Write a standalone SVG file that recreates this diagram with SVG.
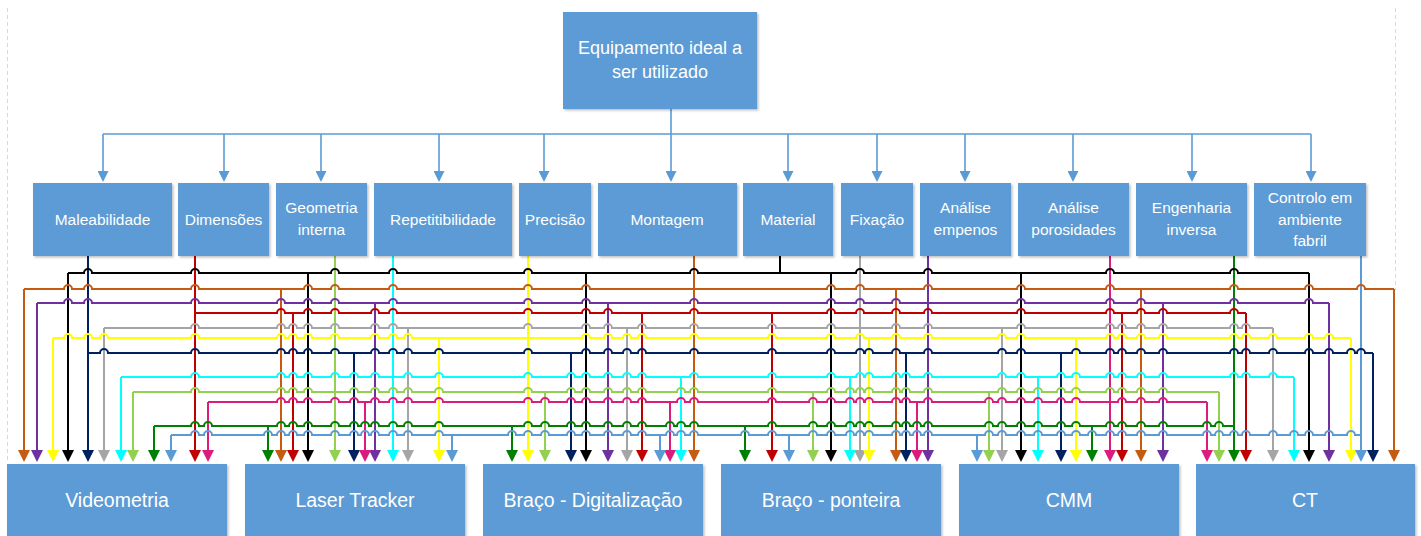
<svg xmlns="http://www.w3.org/2000/svg" width="1421" height="536" viewBox="0 0 1421 536">
<defs>
<style>
.box{fill:#5B9BD5;filter:url(#sh)}
.t{font-family:"Liberation Sans",Arial,sans-serif;fill:#fff;text-anchor:middle}
.c{font-size:15.5px}
.e{font-size:19.5px}
.top{font-size:18px}
.ln{fill:none;stroke-width:2}
.tree{fill:none;stroke:#5B9BD5;stroke-width:1.6}
.k{stroke:#000}.o{stroke:#C55A11}.p{stroke:#7030A0}.r{stroke:#C00000}.g{stroke:#A5A5A5}.y{stroke:#FFFF00}
.n{stroke:#002060}.c1{stroke:#00FFFF}.lg{stroke:#92D050}.m{stroke:#DC1C7D}.gr{stroke:#008000}.lb{stroke:#5B9BD5}
</style>
<filter id="sh" x="-5%" y="-5%" width="115%" height="120%"><feDropShadow dx="1.5" dy="1.5" stdDeviation="1" flood-color="#000" flood-opacity="0.25"/></filter>
<marker id="ak" viewBox="0 0 12 12" refX="0" refY="6" markerWidth="12" markerHeight="12" markerUnits="userSpaceOnUse" orient="auto"><path d="M0,0L12,6L0,12z" fill="#000"/></marker>
<marker id="ao" viewBox="0 0 12 12" refX="0" refY="6" markerWidth="12" markerHeight="12" markerUnits="userSpaceOnUse" orient="auto"><path d="M0,0L12,6L0,12z" fill="#C55A11"/></marker>
<marker id="ap" viewBox="0 0 12 12" refX="0" refY="6" markerWidth="12" markerHeight="12" markerUnits="userSpaceOnUse" orient="auto"><path d="M0,0L12,6L0,12z" fill="#7030A0"/></marker>
<marker id="ar" viewBox="0 0 12 12" refX="0" refY="6" markerWidth="12" markerHeight="12" markerUnits="userSpaceOnUse" orient="auto"><path d="M0,0L12,6L0,12z" fill="#C00000"/></marker>
<marker id="ag" viewBox="0 0 12 12" refX="0" refY="6" markerWidth="12" markerHeight="12" markerUnits="userSpaceOnUse" orient="auto"><path d="M0,0L12,6L0,12z" fill="#A5A5A5"/></marker>
<marker id="ay" viewBox="0 0 12 12" refX="0" refY="6" markerWidth="12" markerHeight="12" markerUnits="userSpaceOnUse" orient="auto"><path d="M0,0L12,6L0,12z" fill="#FFFF00"/></marker>
<marker id="an" viewBox="0 0 12 12" refX="0" refY="6" markerWidth="12" markerHeight="12" markerUnits="userSpaceOnUse" orient="auto"><path d="M0,0L12,6L0,12z" fill="#002060"/></marker>
<marker id="ac" viewBox="0 0 12 12" refX="0" refY="6" markerWidth="12" markerHeight="12" markerUnits="userSpaceOnUse" orient="auto"><path d="M0,0L12,6L0,12z" fill="#00FFFF"/></marker>
<marker id="alg" viewBox="0 0 12 12" refX="0" refY="6" markerWidth="12" markerHeight="12" markerUnits="userSpaceOnUse" orient="auto"><path d="M0,0L12,6L0,12z" fill="#92D050"/></marker>
<marker id="am" viewBox="0 0 12 12" refX="0" refY="6" markerWidth="12" markerHeight="12" markerUnits="userSpaceOnUse" orient="auto"><path d="M0,0L12,6L0,12z" fill="#DC1C7D"/></marker>
<marker id="agr" viewBox="0 0 12 12" refX="0" refY="6" markerWidth="12" markerHeight="12" markerUnits="userSpaceOnUse" orient="auto"><path d="M0,0L12,6L0,12z" fill="#008000"/></marker>
<marker id="alb" viewBox="0 0 12 12" refX="0" refY="6" markerWidth="12" markerHeight="12" markerUnits="userSpaceOnUse" orient="auto"><path d="M0,0L12,6L0,12z" fill="#5B9BD5"/></marker>
<marker id="at" viewBox="0 0 11 11" refX="0" refY="5.5" markerWidth="11" markerHeight="11" markerUnits="userSpaceOnUse" orient="auto"><path d="M0,0L11,5.5L0,11z" fill="#5B9BD5"/></marker>
</defs>
<rect width="1421" height="536" fill="#fff"/>
<g id="page-guides" stroke="#d9d9d9" stroke-width="1" stroke-dasharray="4 3">
<path d="M7.5 8V462"/>
<path d="M1395.5 8V290"/>
</g>

<g id="connectors">
<g id="tree">
<path class="tree" d="M671 109V134M103 134H1311"/>
<g class="tree" marker-end="url(#at)">
<path d="M103 134V171"/><path d="M224 134V171"/><path d="M321 134V171"/><path d="M439 134V171"/><path d="M544 134V171"/><path d="M671 134V171"/><path d="M788 134V171"/><path d="M877 134V171"/><path d="M965 134V171"/><path d="M1073 134V171"/><path d="M1192 134V171"/><path d="M1311 134V171"/>
</g>
</g>
<g id="verticals">
<path class="ln k" d="M780 256V273"/>
<g class="ln k" marker-end="url(#ak)"><path d="M68 273V450"/><path d="M308 273V450"/><path d="M586 273V450"/><path d="M831 273V450"/><path d="M1021 273V450"/><path d="M1309 273V450"/></g>
<g class="ln o" marker-end="url(#ao)"><path d="M694 256V450"/><path d="M24 289V450"/><path d="M281 289V450"/><path d="M896 289V450"/><path d="M1141 289V450"/><path d="M1394 289V450"/></g>
<g class="ln p" marker-end="url(#ap)"><path d="M928 256V450"/><path d="M37 303V450"/><path d="M375 303V450"/><path d="M608 303V450"/><path d="M1163 303V450"/><path d="M1329 303V450"/></g>
<g class="ln r" marker-end="url(#ar)"><path d="M195 256V450"/><path d="M293 313V450"/><path d="M642 313V450"/><path d="M772 313V450"/><path d="M1122 313V450"/><path d="M1246 313V450"/></g>
<g class="ln g" marker-end="url(#ag)"><path d="M860 256V450"/><path d="M104 328V450"/><path d="M408 328V450"/><path d="M627 328V450"/><path d="M1002 328V450"/><path d="M1273 328V450"/></g>
<g class="ln y" marker-end="url(#ay)"><path d="M528 256V450"/><path d="M53 338V450"/><path d="M439 338V450"/><path d="M869 338V450"/><path d="M1076 338V450"/><path d="M1351 338V450"/></g>
<g class="ln n" marker-end="url(#an)"><path d="M88 256V450"/><path d="M354 353V450"/><path d="M571 353V450"/><path d="M906 353V450"/><path d="M1061 353V450"/><path d="M1373 353V450"/></g>
<g class="ln c1" marker-end="url(#ac)"><path d="M393 256V450"/><path d="M121 377V450"/><path d="M681 377V450"/><path d="M850 377V450"/><path d="M1038 377V450"/><path d="M1294 377V450"/></g>
<g class="ln lg" marker-end="url(#alg)"><path d="M335 256V450"/><path d="M133 392V450"/><path d="M545 392V450"/><path d="M813 392V450"/><path d="M989 392V450"/><path d="M1219 392V450"/></g>
<g class="ln m" marker-end="url(#am)"><path d="M1110 256V450"/><path d="M208 402V450"/><path d="M365 402V450"/><path d="M670 402V450"/><path d="M917 402V450"/><path d="M1207 402V450"/></g>
<g class="ln gr" marker-end="url(#agr)"><path d="M1234 256V450"/><path d="M154 426V450"/><path d="M268 426V450"/><path d="M512 426V450"/><path d="M745 426V450"/><path d="M1092 426V450"/></g>
<g class="ln lb" marker-end="url(#alb)"><path d="M1361 256V450"/><path d="M171 435V450"/><path d="M452 435V450"/><path d="M660 435V450"/><path d="M789 435V450"/><path d="M977 435V450"/></g>
</g>
<g id="buses">
<path class="ln k" d="M68 273H84a4 4 0 0 1 8 0H191a4 4 0 0 1 8 0H331a4 4 0 0 1 8 0H389a4 4 0 0 1 8 0H524a4 4 0 0 1 8 0H690a4 4 0 0 1 8 0H856a4 4 0 0 1 8 0H924a4 4 0 0 1 8 0H1106a4 4 0 0 1 8 0H1230a4 4 0 0 1 8 0H1309"/>
<path class="ln o" d="M24 289H64a4 4 0 0 1 8 0H84a4 4 0 0 1 8 0H191a4 4 0 0 1 8 0H304a4 4 0 0 1 8 0H331a4 4 0 0 1 8 0H389a4 4 0 0 1 8 0H524a4 4 0 0 1 8 0H582a4 4 0 0 1 8 0H827a4 4 0 0 1 8 0H856a4 4 0 0 1 8 0H924a4 4 0 0 1 8 0H1017a4 4 0 0 1 8 0H1106a4 4 0 0 1 8 0H1230a4 4 0 0 1 8 0H1305a4 4 0 0 1 8 0H1357a4 4 0 0 1 8 0H1394"/>
<path class="ln p" d="M37 303H64a4 4 0 0 1 8 0H84a4 4 0 0 1 8 0H191a4 4 0 0 1 8 0H277a4 4 0 0 1 8 0H304a4 4 0 0 1 8 0H331a4 4 0 0 1 8 0H389a4 4 0 0 1 8 0H524a4 4 0 0 1 8 0H582a4 4 0 0 1 8 0H690a4 4 0 0 1 8 0H827a4 4 0 0 1 8 0H856a4 4 0 0 1 8 0H892a4 4 0 0 1 8 0H1017a4 4 0 0 1 8 0H1106a4 4 0 0 1 8 0H1137a4 4 0 0 1 8 0H1230a4 4 0 0 1 8 0H1305a4 4 0 0 1 8 0H1329"/>
<path class="ln r" d="M195 313H277a4 4 0 0 1 8 0H304a4 4 0 0 1 8 0H331a4 4 0 0 1 8 0H371a4 4 0 0 1 8 0H389a4 4 0 0 1 8 0H524a4 4 0 0 1 8 0H582a4 4 0 0 1 8 0H604a4 4 0 0 1 8 0H690a4 4 0 0 1 8 0H827a4 4 0 0 1 8 0H856a4 4 0 0 1 8 0H892a4 4 0 0 1 8 0H924a4 4 0 0 1 8 0H1017a4 4 0 0 1 8 0H1106a4 4 0 0 1 8 0H1137a4 4 0 0 1 8 0H1159a4 4 0 0 1 8 0H1230a4 4 0 0 1 8 0H1246"/>
<path class="ln g" d="M104 328H191a4 4 0 0 1 8 0H277a4 4 0 0 1 8 0H289a4 4 0 0 1 8 0H304a4 4 0 0 1 8 0H331a4 4 0 0 1 8 0H371a4 4 0 0 1 8 0H389a4 4 0 0 1 8 0H524a4 4 0 0 1 8 0H582a4 4 0 0 1 8 0H604a4 4 0 0 1 8 0H638a4 4 0 0 1 8 0H690a4 4 0 0 1 8 0H768a4 4 0 0 1 8 0H827a4 4 0 0 1 8 0H892a4 4 0 0 1 8 0H924a4 4 0 0 1 8 0H1017a4 4 0 0 1 8 0H1106a4 4 0 0 1 8 0H1118a4 4 0 0 1 8 0H1137a4 4 0 0 1 8 0H1159a4 4 0 0 1 8 0H1230a4 4 0 0 1 8 0H1242a4 4 0 0 1 8 0H1273"/>
<path class="ln y" d="M53 338H64a4 4 0 0 1 8 0H84a4 4 0 0 1 8 0H100a4 4 0 0 1 8 0H191a4 4 0 0 1 8 0H277a4 4 0 0 1 8 0H289a4 4 0 0 1 8 0H304a4 4 0 0 1 8 0H331a4 4 0 0 1 8 0H371a4 4 0 0 1 8 0H389a4 4 0 0 1 8 0H404a4 4 0 0 1 8 0H582a4 4 0 0 1 8 0H604a4 4 0 0 1 8 0H623a4 4 0 0 1 8 0H638a4 4 0 0 1 8 0H690a4 4 0 0 1 8 0H768a4 4 0 0 1 8 0H827a4 4 0 0 1 8 0H856a4 4 0 0 1 8 0H892a4 4 0 0 1 8 0H924a4 4 0 0 1 8 0H998a4 4 0 0 1 8 0H1017a4 4 0 0 1 8 0H1106a4 4 0 0 1 8 0H1118a4 4 0 0 1 8 0H1137a4 4 0 0 1 8 0H1159a4 4 0 0 1 8 0H1230a4 4 0 0 1 8 0H1242a4 4 0 0 1 8 0H1269a4 4 0 0 1 8 0H1305a4 4 0 0 1 8 0H1325a4 4 0 0 1 8 0H1351"/>
<path class="ln n" d="M88 353H100a4 4 0 0 1 8 0H191a4 4 0 0 1 8 0H277a4 4 0 0 1 8 0H289a4 4 0 0 1 8 0H304a4 4 0 0 1 8 0H331a4 4 0 0 1 8 0H371a4 4 0 0 1 8 0H389a4 4 0 0 1 8 0H404a4 4 0 0 1 8 0H435a4 4 0 0 1 8 0H524a4 4 0 0 1 8 0H582a4 4 0 0 1 8 0H604a4 4 0 0 1 8 0H623a4 4 0 0 1 8 0H638a4 4 0 0 1 8 0H690a4 4 0 0 1 8 0H768a4 4 0 0 1 8 0H827a4 4 0 0 1 8 0H856a4 4 0 0 1 8 0H865a4 4 0 0 1 8 0H892a4 4 0 0 1 8 0H924a4 4 0 0 1 8 0H998a4 4 0 0 1 8 0H1017a4 4 0 0 1 8 0H1072a4 4 0 0 1 8 0H1106a4 4 0 0 1 8 0H1118a4 4 0 0 1 8 0H1137a4 4 0 0 1 8 0H1159a4 4 0 0 1 8 0H1230a4 4 0 0 1 8 0H1242a4 4 0 0 1 8 0H1269a4 4 0 0 1 8 0H1305a4 4 0 0 1 8 0H1325a4 4 0 0 1 8 0H1347a4 4 0 0 1 8 0H1357a4 4 0 0 1 8 0H1373"/>
<path class="ln c1" d="M121 377H191a4 4 0 0 1 8 0H277a4 4 0 0 1 8 0H289a4 4 0 0 1 8 0H304a4 4 0 0 1 8 0H331a4 4 0 0 1 8 0H350a4 4 0 0 1 8 0H371a4 4 0 0 1 8 0H404a4 4 0 0 1 8 0H435a4 4 0 0 1 8 0H524a4 4 0 0 1 8 0H567a4 4 0 0 1 8 0H582a4 4 0 0 1 8 0H604a4 4 0 0 1 8 0H623a4 4 0 0 1 8 0H638a4 4 0 0 1 8 0H690a4 4 0 0 1 8 0H768a4 4 0 0 1 8 0H827a4 4 0 0 1 8 0H856a4 4 0 0 1 8 0H865a4 4 0 0 1 8 0H892a4 4 0 0 1 8 0H902a4 4 0 0 1 8 0H924a4 4 0 0 1 8 0H998a4 4 0 0 1 8 0H1017a4 4 0 0 1 8 0H1057a4 4 0 0 1 8 0H1072a4 4 0 0 1 8 0H1106a4 4 0 0 1 8 0H1118a4 4 0 0 1 8 0H1137a4 4 0 0 1 8 0H1159a4 4 0 0 1 8 0H1230a4 4 0 0 1 8 0H1242a4 4 0 0 1 8 0H1269a4 4 0 0 1 8 0H1294"/>
<path class="ln lg" d="M133 392H191a4 4 0 0 1 8 0H277a4 4 0 0 1 8 0H289a4 4 0 0 1 8 0H304a4 4 0 0 1 8 0H350a4 4 0 0 1 8 0H371a4 4 0 0 1 8 0H389a4 4 0 0 1 8 0H404a4 4 0 0 1 8 0H435a4 4 0 0 1 8 0H524a4 4 0 0 1 8 0H567a4 4 0 0 1 8 0H582a4 4 0 0 1 8 0H604a4 4 0 0 1 8 0H623a4 4 0 0 1 8 0H638a4 4 0 0 1 8 0H677a4 4 0 0 1 8 0H690a4 4 0 0 1 8 0H768a4 4 0 0 1 8 0H827a4 4 0 0 1 8 0H846a4 4 0 0 1 8 0H856a4 4 0 0 1 8 0H865a4 4 0 0 1 8 0H892a4 4 0 0 1 8 0H902a4 4 0 0 1 8 0H924a4 4 0 0 1 8 0H998a4 4 0 0 1 8 0H1017a4 4 0 0 1 8 0H1034a4 4 0 0 1 8 0H1057a4 4 0 0 1 8 0H1072a4 4 0 0 1 8 0H1106a4 4 0 0 1 8 0H1118a4 4 0 0 1 8 0H1137a4 4 0 0 1 8 0H1159a4 4 0 0 1 8 0H1219"/>
<path class="ln m" d="M208 402H277a4 4 0 0 1 8 0H289a4 4 0 0 1 8 0H304a4 4 0 0 1 8 0H331a4 4 0 0 1 8 0H350a4 4 0 0 1 8 0H371a4 4 0 0 1 8 0H389a4 4 0 0 1 8 0H404a4 4 0 0 1 8 0H435a4 4 0 0 1 8 0H524a4 4 0 0 1 8 0H541a4 4 0 0 1 8 0H567a4 4 0 0 1 8 0H582a4 4 0 0 1 8 0H604a4 4 0 0 1 8 0H623a4 4 0 0 1 8 0H638a4 4 0 0 1 8 0H677a4 4 0 0 1 8 0H690a4 4 0 0 1 8 0H768a4 4 0 0 1 8 0H809a4 4 0 0 1 8 0H827a4 4 0 0 1 8 0H846a4 4 0 0 1 8 0H856a4 4 0 0 1 8 0H865a4 4 0 0 1 8 0H892a4 4 0 0 1 8 0H902a4 4 0 0 1 8 0H924a4 4 0 0 1 8 0H985a4 4 0 0 1 8 0H998a4 4 0 0 1 8 0H1017a4 4 0 0 1 8 0H1034a4 4 0 0 1 8 0H1057a4 4 0 0 1 8 0H1072a4 4 0 0 1 8 0H1118a4 4 0 0 1 8 0H1137a4 4 0 0 1 8 0H1159a4 4 0 0 1 8 0H1207"/>
<path class="ln gr" d="M154 426H191a4 4 0 0 1 8 0H204a4 4 0 0 1 8 0H277a4 4 0 0 1 8 0H289a4 4 0 0 1 8 0H304a4 4 0 0 1 8 0H331a4 4 0 0 1 8 0H350a4 4 0 0 1 8 0H361a4 4 0 0 1 8 0H371a4 4 0 0 1 8 0H389a4 4 0 0 1 8 0H404a4 4 0 0 1 8 0H435a4 4 0 0 1 8 0H524a4 4 0 0 1 8 0H541a4 4 0 0 1 8 0H567a4 4 0 0 1 8 0H582a4 4 0 0 1 8 0H604a4 4 0 0 1 8 0H623a4 4 0 0 1 8 0H638a4 4 0 0 1 8 0H666a4 4 0 0 1 8 0H677a4 4 0 0 1 8 0H690a4 4 0 0 1 8 0H768a4 4 0 0 1 8 0H809a4 4 0 0 1 8 0H827a4 4 0 0 1 8 0H846a4 4 0 0 1 8 0H856a4 4 0 0 1 8 0H865a4 4 0 0 1 8 0H892a4 4 0 0 1 8 0H902a4 4 0 0 1 8 0H913a4 4 0 0 1 8 0H924a4 4 0 0 1 8 0H985a4 4 0 0 1 8 0H998a4 4 0 0 1 8 0H1017a4 4 0 0 1 8 0H1034a4 4 0 0 1 8 0H1057a4 4 0 0 1 8 0H1072a4 4 0 0 1 8 0H1106a4 4 0 0 1 8 0H1118a4 4 0 0 1 8 0H1137a4 4 0 0 1 8 0H1159a4 4 0 0 1 8 0H1203a4 4 0 0 1 8 0H1215a4 4 0 0 1 8 0H1234"/>
<path class="ln lb" d="M171 435H191a4 4 0 0 1 8 0H204a4 4 0 0 1 8 0H264a4 4 0 0 1 8 0H277a4 4 0 0 1 8 0H289a4 4 0 0 1 8 0H304a4 4 0 0 1 8 0H331a4 4 0 0 1 8 0H350a4 4 0 0 1 8 0H361a4 4 0 0 1 8 0H371a4 4 0 0 1 8 0H389a4 4 0 0 1 8 0H404a4 4 0 0 1 8 0H435a4 4 0 0 1 8 0H508a4 4 0 0 1 8 0H524a4 4 0 0 1 8 0H541a4 4 0 0 1 8 0H567a4 4 0 0 1 8 0H582a4 4 0 0 1 8 0H604a4 4 0 0 1 8 0H623a4 4 0 0 1 8 0H638a4 4 0 0 1 8 0H666a4 4 0 0 1 8 0H677a4 4 0 0 1 8 0H690a4 4 0 0 1 8 0H741a4 4 0 0 1 8 0H768a4 4 0 0 1 8 0H809a4 4 0 0 1 8 0H827a4 4 0 0 1 8 0H846a4 4 0 0 1 8 0H856a4 4 0 0 1 8 0H865a4 4 0 0 1 8 0H892a4 4 0 0 1 8 0H902a4 4 0 0 1 8 0H913a4 4 0 0 1 8 0H924a4 4 0 0 1 8 0H985a4 4 0 0 1 8 0H998a4 4 0 0 1 8 0H1017a4 4 0 0 1 8 0H1034a4 4 0 0 1 8 0H1057a4 4 0 0 1 8 0H1072a4 4 0 0 1 8 0H1088a4 4 0 0 1 8 0H1106a4 4 0 0 1 8 0H1118a4 4 0 0 1 8 0H1137a4 4 0 0 1 8 0H1159a4 4 0 0 1 8 0H1203a4 4 0 0 1 8 0H1215a4 4 0 0 1 8 0H1230a4 4 0 0 1 8 0H1242a4 4 0 0 1 8 0H1269a4 4 0 0 1 8 0H1290a4 4 0 0 1 8 0H1305a4 4 0 0 1 8 0H1325a4 4 0 0 1 8 0H1347a4 4 0 0 1 8 0H1361"/>
</g>
</g>

<g id="node-top"><rect class="box" x="563" y="12" width="194" height="97"/><text class="t top" x="660" y="54">Equipamento ideal a</text><text class="t top" x="660" y="78">ser utilizado</text></g>

<g id="node-maleabilidade"><rect class="box" x="33" y="183" width="139" height="73"/><text class="t c" x="102.5" y="225">Maleabilidade</text></g>
<g id="node-dimensoes"><rect class="box" x="178" y="183" width="91" height="73"/><text class="t c" x="223.5" y="225">Dimensões</text></g>
<g id="node-geometria"><rect class="box" x="276" y="183" width="91" height="73"/><text class="t c" x="321.5" y="213">Geometria</text><text class="t c" x="321.5" y="235">interna</text></g>
<g id="node-repetitibilidade"><rect class="box" x="374" y="183" width="138" height="73"/><text class="t c" x="443" y="225">Repetitibilidade</text></g>
<g id="node-precisao"><rect class="box" x="519" y="183" width="72" height="73"/><text class="t c" x="555" y="225">Precisão</text></g>
<g id="node-montagem"><rect class="box" x="598" y="183" width="139" height="73"/><text class="t c" x="667" y="225">Montagem</text></g>
<g id="node-material"><rect class="box" x="743" y="183" width="90" height="73"/><text class="t c" x="788" y="225">Material</text></g>
<g id="node-fixacao"><rect class="box" x="841" y="183" width="72" height="73"/><text class="t c" x="877" y="225">Fixação</text></g>
<g id="node-empenos"><rect class="box" x="920" y="183" width="91" height="73"/><text class="t c" x="965.5" y="213">Análise</text><text class="t c" x="965.5" y="235">empenos</text></g>
<g id="node-porosidades"><rect class="box" x="1018" y="183" width="111" height="73"/><text class="t c" x="1073.5" y="213">Análise</text><text class="t c" x="1073.5" y="235">porosidades</text></g>
<g id="node-engenharia"><rect class="box" x="1136" y="183" width="111" height="73"/><text class="t c" x="1191.5" y="213">Engenharia</text><text class="t c" x="1191.5" y="235">inversa</text></g>
<g id="node-controlo"><rect class="box" x="1254" y="183" width="112" height="73"/><text class="t c" x="1310" y="203">Controlo em</text><text class="t c" x="1310" y="225">ambiente</text><text class="t c" x="1310" y="246">fabril</text></g>

<g id="node-videometria"><rect class="box" x="7" y="464" width="220" height="74"/><text class="t e" x="117" y="507">Videometria</text></g>
<g id="node-laser"><rect class="box" x="245" y="464" width="220" height="74"/><text class="t e" x="355" y="507">Laser Tracker</text></g>
<g id="node-braco-dig"><rect class="box" x="483" y="464" width="220" height="74"/><text class="t e" x="593" y="507">Braço - Digitalização</text></g>
<g id="node-braco-pont"><rect class="box" x="721" y="464" width="220" height="74"/><text class="t e" x="831" y="507">Braço - ponteira</text></g>
<g id="node-cmm"><rect class="box" x="959" y="464" width="220" height="74"/><text class="t e" x="1069" y="507">CMM</text></g>
<g id="node-ct"><rect class="box" x="1196" y="464" width="219" height="74"/><text class="t e" x="1305" y="507">CT</text></g>
</svg>
